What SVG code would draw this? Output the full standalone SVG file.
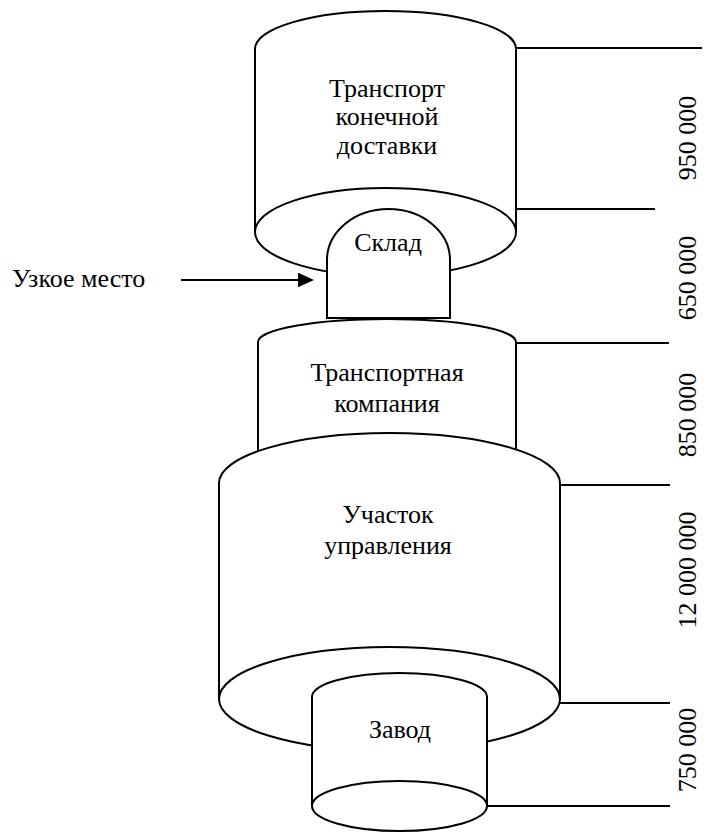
<svg xmlns="http://www.w3.org/2000/svg" width="709" height="832" viewBox="0 0 709 832">
  <style>
    .shape { fill: #ffffff; stroke: #000000; stroke-width: 2; }
    .lead { stroke: #000000; stroke-width: 2; fill: none; }
    text { font-family: "Liberation Serif", "Times New Roman", serif; font-size: 26px; fill: #000000; text-anchor: middle; }
  </style>
  <defs>
    <marker id="arrowHead" markerUnits="userSpaceOnUse" markerWidth="16" markerHeight="15" refX="1" refY="7.3" orient="auto">
      <path d="M0,0 L16,7.3 L0,14.6 Z" fill="#000000"/>
    </marker>
  </defs>

  <rect width="709" height="832" fill="#ffffff"/>

  <!-- level markers on the right and the bottleneck pointer -->
  <g id="connectors">
    <line class="lead" x1="516" y1="48" x2="702" y2="48"/>
    <line class="lead" x1="516" y1="209" x2="655" y2="209"/>
    <line class="lead" x1="516" y1="343" x2="669" y2="343"/>
    <line class="lead" x1="560" y1="485" x2="670" y2="485"/>
    <line class="lead" x1="487" y1="703" x2="670" y2="703"/>
    <line class="lead" x1="487" y1="806" x2="670" y2="806"/>
    <line class="lead" x1="181" y1="280" x2="299" y2="280" marker-end="url(#arrowHead)"/>
  </g>

  <!-- last-mile transport -->
  <g id="last-mile">
    <path class="shape" d="M255,232 V49 A130.5,38 0 0 1 516,49 V232"/>
    <ellipse class="shape" cx="385.5" cy="232" rx="130.5" ry="44"/>
    <text x="387" y="97">Транспорт</text>
    <text x="387" y="125">конечной</text>
    <text x="387" y="154">доставки</text>
  </g>

  <!-- warehouse (bottleneck) -->
  <g id="warehouse">
    <path class="shape" d="M327,318 V260 A61.5,51 0 0 1 450,260 V318 Z"/>
    <text x="388" y="251">Склад</text>
  </g>

  <!-- transport company -->
  <g id="transport-company">
    <path class="shape" d="M258,470 V342 A129,23 0 0 1 516,342 V470"/>
    <text x="387" y="381">Транспортная</text>
    <text x="387" y="412">компания</text>
  </g>

  <!-- management section -->
  <g id="management">
    <path class="shape" d="M219,699 V483 A170.5,50 0 0 1 560,483 V699"/>
    <ellipse class="shape" cx="389.5" cy="699" rx="170.5" ry="52"/>
    <text x="388" y="523">Участок</text>
    <text x="388" y="554">управления</text>
  </g>

  <!-- plant -->
  <g id="plant">
    <path class="shape" d="M312,806 V697 A87.5,24 0 0 1 487,697 V806"/>
    <ellipse class="shape" cx="399.5" cy="806" rx="87.5" ry="25"/>
    <text x="400" y="738">Завод</text>
  </g>

  <!-- bottleneck caption -->
  <g id="bottleneck-label">
    <text x="12" y="287" style="text-anchor:start">Узкое место</text>
  </g>

  <!-- capacities -->
  <g id="capacities">
    <text transform="translate(696,138) rotate(-90)">950 000</text>
    <text transform="translate(696,278) rotate(-90)">650 000</text>
    <text transform="translate(696,415) rotate(-90)">850 000</text>
    <text transform="translate(696,570) rotate(-90)">12 000 000</text>
    <text transform="translate(696,750) rotate(-90)">750 000</text>
  </g>
</svg>
